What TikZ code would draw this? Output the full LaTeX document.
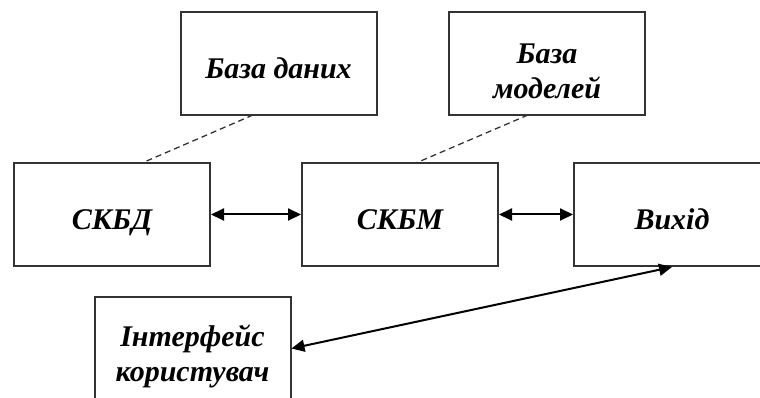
\documentclass[tikz,border=0pt]{standalone}
\usepackage{fontspec}
\setmainfont{Liberation Serif}
\usetikzlibrary{arrows.meta}
\begin{document}
\begin{tikzpicture}[x=1pt,y=-1pt,
  box/.style={draw=black!80,line width=2pt,minimum width=196pt,minimum height=103pt,inner sep=0pt},
  txt/.style={inner sep=0pt,align=center,yshift=-8pt,font=\fontsize{30}{35}\selectfont\bfseries\itshape},
  dashline/.style={draw=black!80,line width=1.3pt,dash pattern=on 6pt off 4pt},
  biarrow/.style={line width=2pt,{Triangle[length=13pt,width=12pt]}-{Triangle[length=13pt,width=12pt]}}]
\useasboundingbox (0,0) rectangle (760,398);
\clip (0,0) rectangle (760,398);
\node[box] (bd) at (278.5,63.5) {};
\node[box] (bm) at (547,63.5) {};
\node[box] (skbd) at (112,214.5) {};
\node[box] (skbm) at (400,214.5) {};
\node[box] (vy) at (672,214.5) {};
\node[box] (ui) at (192.5,348.5) {};
\node[txt] (bdt) at (bd) {\strut База даних};
\node[txt] (bmt) at (bm) {База\\моделей};
\node[txt] (skbdt) at (skbd) {\strut СКБД};
\node[txt] (skbmt) at (skbm) {\strut СКБМ};
\node[txt] (vyt) at (vy) {\strut Вихід};
\node[txt] (uit) at (ui) {Інтерфейс\\користувач};
\coordinate (bda) at (253,115);
\coordinate (skbda) at (142,163);
\coordinate (bma) at (528,115);
\coordinate (skbma) at (416,163);
\draw[dashline] (bda) -- (skbda);
\draw[dashline] (bma) -- (skbma);
\draw[biarrow] (skbd.east) -- (skbm.west);
\draw[biarrow] (skbm.east) -- (vy.west);
\draw[biarrow] (ui.east) -- (vy.south);
\end{tikzpicture}
\end{document}
